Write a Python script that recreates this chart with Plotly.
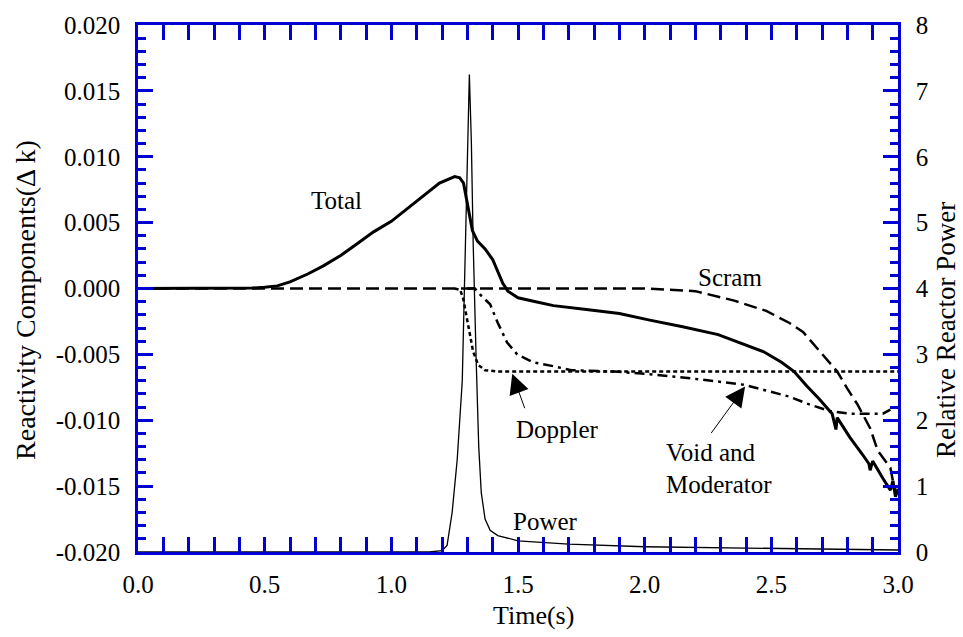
import plotly.graph_objects as go

# ---------------- data ----------------
total_t = [0.0, 0.35, 0.45, 0.5, 0.55, 0.6, 0.67, 0.73, 0.8, 0.865, 0.93, 1.0, 1.06, 1.13, 1.19,
           1.25, 1.27, 1.285, 1.30, 1.32, 1.34, 1.37, 1.40, 1.42, 1.44, 1.46, 1.50, 1.57, 1.64,
           1.77, 1.90, 2.02, 2.15, 2.29, 2.39, 2.47, 2.54, 2.59, 2.64, 2.69, 2.74, 2.755, 2.76,
           2.81, 2.86, 2.885, 2.89, 2.90, 2.94, 2.97, 2.98, 2.99, 3.0]
total_v = [0.0, 0.0, 0.00003, 0.0001, 0.0002, 0.0005, 0.0011, 0.0017, 0.0025, 0.0034, 0.0043,
           0.0051, 0.0060, 0.0071, 0.0080, 0.0085, 0.0084, 0.0080, 0.0065, 0.0044, 0.0036,
           0.0030, 0.0022, 0.0013, 0.0004, -0.0002, -0.0007, -0.0010, -0.0013, -0.0016, -0.0019,
           -0.0024, -0.0029, -0.0035, -0.0042, -0.0048, -0.0056, -0.0063, -0.0074, -0.0084,
           -0.0095, -0.0107, -0.0098, -0.0113, -0.0126, -0.0133, -0.0138, -0.0131, -0.0144,
           -0.0153, -0.0146, -0.0158, -0.0152]

scram_t = [0.0, 2.0, 2.2, 2.35, 2.48, 2.57, 2.625, 2.70, 2.76, 2.80, 2.84, 2.89, 2.92, 2.97, 2.99]
scram_v = [0.0, 0.0, -0.0002, -0.0009, -0.0017, -0.0026, -0.0033, -0.0050, -0.0063, -0.0076,
           -0.0088, -0.0106, -0.0123, -0.0136, -0.0156]

doppler_t = [1.25, 1.272, 1.284, 1.304, 1.323, 1.343, 1.37, 1.42, 3.0]
doppler_v = [0.0, -0.0001, -0.0008, -0.0028, -0.0048, -0.0058, -0.0062, -0.0063, -0.0063]

void_t = [1.30, 1.33, 1.35, 1.39, 1.42, 1.457, 1.497, 1.56, 1.64, 1.71, 1.88, 2.02, 2.22, 2.39,
          2.47, 2.57, 2.65, 2.73, 2.81, 2.89, 2.94, 2.97]
void_v = [0.0, 0.0, -0.00045, -0.0012, -0.0026, -0.0041, -0.0050, -0.0056, -0.0059, -0.0062,
          -0.0063, -0.0065, -0.0069, -0.0073, -0.0077, -0.0082, -0.0088, -0.0093, -0.0095,
          -0.0095, -0.0095, -0.0092]

power_t = [0.0, 1.15, 1.20, 1.22, 1.24, 1.26, 1.28, 1.29, 1.30, 1.308, 1.316, 1.323, 1.335,
           1.345, 1.355, 1.37, 1.39, 1.42, 1.5, 1.7, 2.0, 2.5, 3.0]
power_v = [0.0, 0.0, 0.02, 0.1, 0.6, 1.4, 2.6, 4.2, 6.0, 7.25, 6.2, 4.7, 2.9, 1.6, 0.9, 0.5,
           0.33, 0.25, 0.17, 0.12, 0.08, 0.05, 0.03]

x_ticks = [0.0, 0.5, 1.0, 1.5, 2.0, 2.5, 3.0]
x_labels = ["0.0", "0.5", "1.0", "1.5", "2.0", "2.5", "3.0"]
y_ticks = [0.020, 0.015, 0.010, 0.005, 0.0, -0.005, -0.010, -0.015, -0.020]
y_labels = ["0.020", "0.015", "0.010", "0.005", "0.000", "-0.005", "-0.010", "-0.015", "-0.020"]
y2_ticks = [0, 1, 2, 3, 4, 5, 6, 7, 8]
y2_labels = ["0", "1", "2", "3", "4", "5", "6", "7", "8"]

# ---------------- figure ----------------
FONT = "Liberation Serif"
BLUE = "#0000d2"
W, H = 963, 637
L, R, T, B = 137.5, 898, 20, 552
TICKFONT = dict(family=FONT, size=25, color="black")

fig = go.Figure()
fig.add_trace(go.Scatter(x=scram_t, y=scram_v, mode="lines",
                         line=dict(color="black", width=2.5, dash="13px,6px"), name="Scram"))
fig.add_trace(go.Scatter(x=doppler_t, y=doppler_v, mode="lines",
                         line=dict(color="black", width=2.5, dash="4px,3px"), name="Doppler"))
fig.add_trace(go.Scatter(x=void_t, y=void_v, mode="lines",
                         line=dict(color="black", width=2.5, dash="10px,5px,3px,5px"),
                         name="Void and Moderator"))
fig.add_trace(go.Scatter(x=total_t, y=total_v, mode="lines",
                         line=dict(color="black", width=3), name="Total"))
fig.add_trace(go.Scatter(x=power_t, y=power_v, mode="lines", yaxis="y2",
                         line=dict(color="black", width=1.3), name="Power"))


def axis(**kw):
    d = dict(showline=True, linecolor=BLUE, linewidth=2.5, ticks="inside",
             tickcolor=BLUE, tickwidth=2.5, ticklen=15, showgrid=False, zeroline=False,
             tickfont=TICKFONT, tickmode="array")
    d.update(kw)
    return d


fig.update_layout(
    width=W, height=H,
    margin=dict(l=L, r=W - R, t=T, b=H - B, pad=0),
    paper_bgcolor="white", plot_bgcolor="white",
    font=dict(family=FONT, size=24, color="black"),
    showlegend=False,
    xaxis=axis(range=[0, 3.0], tickvals=x_ticks, ticktext=x_labels, mirror="allticks",
               ticklabelstandoff=8,
               minor=dict(tickmode="linear", tick0=0, dtick=0.1, ticks="inside", ticklen=8,
                          tickcolor=BLUE, tickwidth=2.5)),
    yaxis=axis(range=[-0.020, 0.020], tickvals=y_ticks, ticktext=y_labels, mirror=False,
               ticklabelstandoff=10,
               minor=dict(tickmode="linear", tick0=0, dtick=0.001, ticks="inside", ticklen=8,
                          tickcolor=BLUE, tickwidth=2.5)),
    yaxis2=axis(range=[0, 8], tickvals=y2_ticks, ticktext=y2_labels, overlaying="y",
                side="right", ticklabelstandoff=10,
                minor=dict(tickmode="linear", tick0=0, dtick=0.2, ticks="inside", ticklen=8,
                           tickcolor=BLUE, tickwidth=2.5)),
)


def px_to_paper(px, py):
    return (px - L) / (R - L), (B - py) / (B - T)


def add_text(text, px, py, angle=0, xanchor="center", size=25):
    xp, yp = px_to_paper(px, py)
    fig.add_annotation(x=xp, y=yp, xref="paper", yref="paper", text=text, showarrow=False,
                       textangle=angle, xanchor=xanchor, yanchor="middle",
                       font=dict(family=FONT, size=size, color="black"))


# axis titles
add_text("Reactivity Components(\u0394 k)", 25, 298, angle=-90, size=28)
add_text("Relative Reactor Power", 946, 328, angle=-90, size=27)
add_text("Time(s)", 533, 616, size=26)

# curve labels
add_text("Total", 336, 197)
add_text("Scram", 730, 275)
add_text("Doppler", 557, 428)
add_text("Void and", 664, 452, xanchor="left")
add_text("Moderator", 664, 484, xanchor="left")
add_text("Power", 545, 521)

# arrows (tip at the curve, tail near the label)
for tip, tail in [((512, 372), (525, 408)), ((745, 385), (710, 433))]:
    xp, yp = px_to_paper(*tip)
    fig.add_annotation(x=xp, y=yp, xref="paper", yref="paper", text="", showarrow=True,
                       ax=tail[0] - tip[0], ay=tail[1] - tip[1], arrowhead=2, arrowsize=4,
                       arrowwidth=1, arrowcolor="black")

fig.write_html("out.html")
